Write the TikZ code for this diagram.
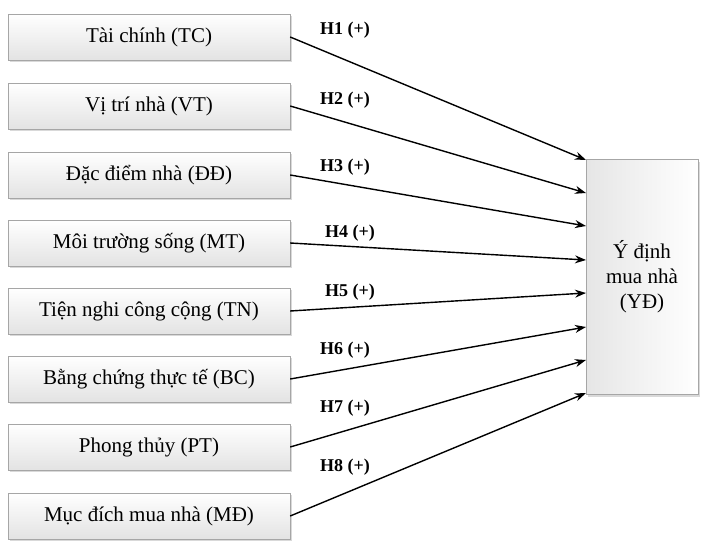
\documentclass[tikz,border=0pt]{standalone}
\usepackage{fontspec}
\setmainfont{Liberation Serif}
\usetikzlibrary{shadows,arrows.meta}

\tikzset{
  factor/.style={draw=gray!70, top color=white, bottom color=gray!22,
    minimum width=282pt, minimum height=46pt, drop shadow={opacity=0.3},
    font=\fontsize{21}{24}\selectfont},
  target/.style={draw=gray!70, left color=gray!20, right color=white,
    minimum width=112pt, minimum height=235pt, align=center,
    drop shadow={opacity=0.3}, font=\fontsize{21}{25}\selectfont},
  link/.style={-{Stealth[length=11pt,width=8pt]}, line width=1.4pt},
  hyp/.style={font=\bfseries\fontsize{18}{21}\selectfont}
}

\begin{document}
\begin{tikzpicture}[x=1pt, y=-1pt]
\useasboundingbox (0,0) rectangle (720,545);

\node[target] (yd) at (642,277) {Ý định\\mua nhà\\(YĐ)};

\node[factor] (tc) at (149,37) {Tài chính (TC)};
\node[factor] (vt) at (149,106) {Vị trí nhà (VT)};
\node[factor] (dd) at (149,175) {Đặc điểm nhà (ĐĐ)};
\node[factor] (mt) at (149,243) {Môi trường sống (MT)};
\node[factor] (tn) at (149,311) {Tiện nghi công cộng (TN)};
\node[factor] (bc) at (149,379) {Bằng chứng thực tế (BC)};
\node[factor] (pt) at (149,447) {Phong thủy (PT)};
\node[factor] (md) at (149,516) {Mục đích mua nhà (MĐ)};

% arrows into the target box, with hypothesis labels
\foreach \src/\ty/\lab/\lx/\lly in {tc/160/H1/345/30, vt/193/H2/345/100,
    dd/226/H3/345/167, mt/260/H4/350/233, tn/293/H5/350/292,
    bc/327/H6/345/350, pt/360/H7/345/408, md/393/H8/345/467} {
  \coordinate (in-\src) at (586,\ty);
  \draw[link] (\src.east) -- (in-\src);
  \node[hyp] (lab-\src) at (\lx,\lly) {\lab{} (+)};
}
\end{tikzpicture}
\end{document}
